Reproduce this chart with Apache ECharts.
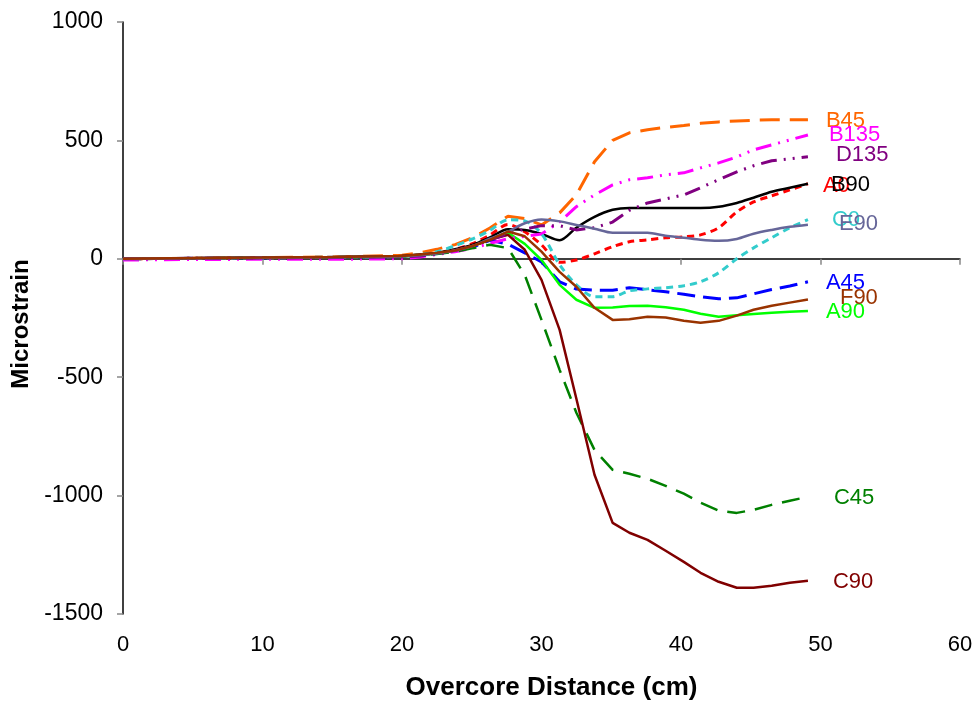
<!DOCTYPE html>
<html>
<head>
<meta charset="utf-8">
<script src="https://cdn.jsdelivr.net/npm/echarts@6/dist/echarts.min.js"></script>
<style>
  html, body { margin: 0; padding: 0; background: #fff; }
  #chart { width: 977px; height: 707px; }
</style>
</head>
<body>
<div id="chart"></div>
<script>
// overcore distance (cm) shared by every gauge
const X = [0, 5, 10, 15, 20, 21.3, 22.5, 23.8, 25.1, 26.3, 27.6, 28.8, 30.0, 31.3, 32.5, 33.8, 35.1, 36.3, 37.6, 38.9, 40.2, 41.4, 42.7, 44.0, 45.2, 46.5, 47.8, 49.1]

// microstrain per gauge
const A0   = [0, 2, 4, 7, 10, 15, 25, 40, 65, 100, 145, 114, 59, -15, -5, 21, 51, 72, 80, 89, 93, 101, 131, 198, 240, 266, 291, 317]
const A45  = [0, 2, 4, 6, 10, 15, 22, 35, 50, 78, 62, 25, -13, -97, -128, -133, -133, -122, -131, -139, -150, -160, -169, -165, -148, -130, -115, -97]
const A90  = [0, 2, 4, 7, 10, 15, 22, 35, 55, 80, 110, 63, -5, -110, -173, -207, -206, -199, -198, -205, -215, -232, -245, -238, -233, -228, -224, -220]
const B45  = [0, 2, 5, 8, 15, 25, 40, 60, 90, 130, 180, 170, 143, 194, 270, 410, 500, 532, 545, 555, 563, 572, 578, 582, 585, 587, 587, 587]
const B90  = [0, 2, 4, 7, 12, 18, 25, 40, 60, 90, 125, 122, 105, 78, 131, 177, 207, 215, 215, 215, 215, 215, 220, 236, 258, 283, 300, 317]
const B135 = [-5, -3, -2, -2, 0, 8, 18, 30, 45, 65, 85, 95, 105, 156, 220, 270, 312, 334, 342, 355, 363, 384, 405, 430, 460, 481, 502, 523]
const C0   = [0, 2, 4, 7, 10, 18, 30, 55, 85, 120, 165, 160, 106, -25, -110, -160, -160, -135, -127, -122, -114, -97, -59, 0, 46, 89, 131, 165]
const C45  = [0, 2, 4, 6, 10, 15, 20, 30, 45, 59, 45, -68, -258, -469, -650, -807, -891, -908, -929, -959, -992, -1030, -1064, -1073, -1060, -1039, -1022, -1005]
const C90  = [0, 2, 4, 7, 12, 18, 25, 35, 55, 80, 101, 38, -89, -300, -591, -912, -1115, -1157, -1187, -1233, -1280, -1326, -1364, -1389, -1389, -1381, -1368, -1360]
const D135 = [0, 2, 3, 5, 8, 12, 20, 35, 55, 80, 105, 125, 140, 140, 122, 131, 155, 205, 236, 253, 270, 300, 334, 367, 393, 414, 422, 431]
const E90  = [0, 2, 4, 7, 10, 15, 22, 35, 55, 85, 115, 150, 166, 158, 143, 127, 110, 110, 110, 97, 89, 80, 76, 84, 106, 122, 135, 144]
const F90  = [0, 3, 5, 8, 12, 18, 25, 35, 55, 80, 115, 95, 30, -55, -118, -207, -258, -255, -245, -248, -262, -270, -262, -240, -215, -198, -185, -172]

const FONT = 'Liberation Sans, Arial, sans-serif'

// name, values, colour, dash, width, smooth, label offset
const gauges = [
  ['A0', A0, '#ff0000', [7, 5], 3, 0.3, [7, 2]],
  ['A45', A45, '#0000ff', [18, 8], 3, 0, [10, 1]],
  ['A90', A90, '#00ff00', 'solid', 2.5, 0, [10, 1]],
  ['B45', B45, '#ff6600', [20, 10], 3, 0, [10, 1]],
  ['B90', B90, '#000000', 'solid', 2.5, 0.3, [15, 1]],
  ['B135', B135, '#ff00ff', [16, 7, 2, 7, 2, 7], 3, 0, [13, 0]],
  ['C0', C0, '#33cccc', [7, 5], 3, 0.3, [16, 0]],
  ['C45', C45, '#008000', [18, 10], 2.5, 0, [18, 1]],
  ['C90', C90, '#800000', 'solid', 2.5, 0, [17, 1]],
  ['D135', D135, '#800080', [16, 7, 2, 7, 2, 7], 3, 0, [20, -2]],
  ['E90', E90, '#666699', 'solid', 2.5, 0.3, [23, -1]],
  ['F90', F90, '#993300', 'solid', 2.5, 0, [24, -2]]
]

const chart = echarts.init(document.getElementById('chart'))

chart.setOption({
  animation: false,
  grid: { left: 123, right: 17, top: 22, bottom: 93, containLabel: false, outerBoundsMode: 'none' },
  xAxis: [
    {
      // labels and title along the bottom
      type: 'value', min: 0, max: 60, interval: 10,
      position: 'bottom',
      axisLine: { show: false, onZero: false },
      axisTick: { show: false },
      splitLine: { show: false },
      axisLabel: { color: '#000', fontSize: 22, fontFamily: FONT, margin: 20 },
      name: 'Overcore Distance (cm)',
      nameLocation: 'middle',
      nameGap: 61,
      nameTextStyle: { color: '#000', fontSize: 26, fontWeight: 'bold', fontFamily: FONT, padding: [0, 0, 0, 20] }
    },
    {
      // axis line crossing at zero
      type: 'value', min: 0, max: 60, interval: 10,
      position: 'bottom',
      axisLine: { show: true, onZero: true, lineStyle: { color: '#000', width: 1.5 } },
      axisTick: { show: true, length: 6, lineStyle: { color: '#888', width: 1.5 } },
      axisLabel: { show: false },
      splitLine: { show: false }
    }
  ],
  yAxis: {
    type: 'value', min: -1500, max: 1000, interval: 500,
    axisLine: { show: true, onZero: false, lineStyle: { color: '#000', width: 1.5 } },
    axisTick: { show: true, length: 6, lineStyle: { color: '#888', width: 1.5 } },
    splitLine: { show: false },
    axisLabel: { color: '#000', fontSize: 23, fontFamily: FONT, margin: 20, formatter: v => String(v) },
    name: 'Microstrain',
    nameLocation: 'middle',
    nameGap: 86,
    nameTextStyle: { color: '#000', fontSize: 24, fontWeight: 'bold', fontFamily: FONT, padding: [0, 12, 0, 0] }
  },
  series: gauges.map(([name, vals, color, dash, width, smooth, off]) => ({
    name,
    type: 'line',
    xAxisIndex: 0,
    data: X.map((x, i) => [x, vals[i]]),
    showSymbol: false,
    smooth,
    lineStyle: { color, width, type: dash, cap: 'butt' },
    itemStyle: { color },
    endLabel: {
      show: true,
      formatter: name,
      color,
      fontSize: 22,
      fontFamily: FONT,
      offset: off
    },
    emphasis: { disabled: true }
  }))
})
</script>
</body>
</html>
